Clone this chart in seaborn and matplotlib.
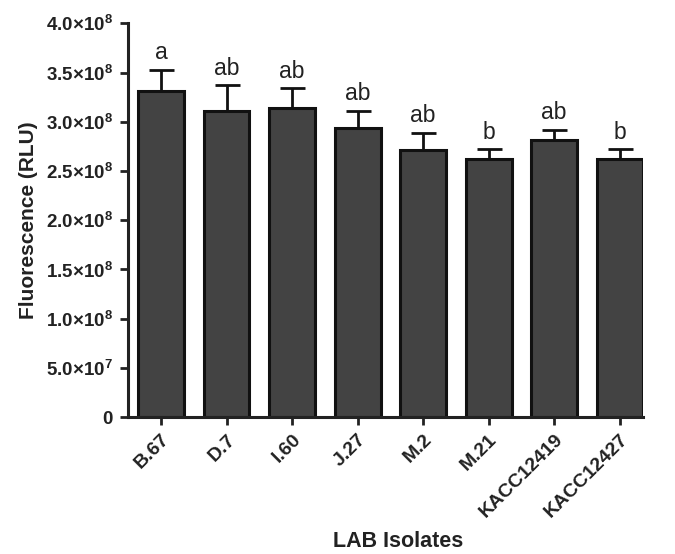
import numpy as np
import pandas as pd
import matplotlib
matplotlib.use("Agg")
import matplotlib.pyplot as plt
import seaborn as sns

# Data
isolates = ['B.67', 'D.7', 'I.60', 'J.27', 'M.2', 'M.21', 'KACC12419', 'KACC12427']
fluorescence = [3.31e8, 3.11e8, 3.14e8, 2.94e8, 2.71e8, 2.62e8, 2.81e8, 2.62e8]
sd = [0.22e8, 0.26e8, 0.20e8, 0.17e8, 0.18e8, 0.10e8, 0.11e8, 0.10e8]
letters = ['a', 'ab', 'ab', 'ab', 'ab', 'b', 'ab', 'b']

yticks = [0, 0.5e8, 1.0e8, 1.5e8, 2.0e8, 2.5e8, 3.0e8, 3.5e8, 4.0e8]
ytick_labels = ['0', '5.0×10$^{7}$', '1.0×10$^{8}$', '1.5×10$^{8}$', '2.0×10$^{8}$',
                '2.5×10$^{8}$', '3.0×10$^{8}$', '3.5×10$^{8}$', '4.0×10$^{8}$']

df = pd.DataFrame({'isolate': isolates, 'fluorescence': fluorescence, 'sd': sd})

sns.set_style('ticks')
plt.rcParams['font.family'] = ['Liberation Sans', 'DejaVu Sans']
plt.rcParams['mathtext.fontset'] = 'custom'
plt.rcParams['mathtext.rm'] = 'Liberation Sans:bold'
plt.rcParams['mathtext.bf'] = 'Liberation Sans:bold'
plt.rcParams['mathtext.default'] = 'bf'

fig = plt.figure(figsize=(6.75, 5.54), dpi=100)
ax = fig.add_axes([0.19, 0.247, 0.763, 0.711])

sns.barplot(data=df, x='isolate', y='fluorescence', color='#434343', saturation=1,
            width=0.7, errorbar=None, edgecolor='#111111', linewidth=2.2, ax=ax)

# one-sided (upward) error bars
ax.errorbar(np.arange(len(isolates)), df['fluorescence'],
            yerr=[np.zeros(len(sd)), df['sd']], fmt='none', ecolor='#111111',
            elinewidth=2.0, capsize=9, capthick=2.0, zorder=5)

# significance letters
for i, (v, e, l) in enumerate(zip(fluorescence, sd, letters)):
    ax.annotate(l, (i, v + e), xytext=(0, 4), textcoords='offset points',
                ha='center', va='bottom', fontsize=16.5, color='#222222')

ax.set_ylim(0, 4.0e8)
ax.set_xlim(-0.5, 7.36)
ax.set_yticks(yticks)
ax.set_yticklabels(ytick_labels, fontsize=13.5, fontweight='bold', color='#222222')
ax.set_xticks(range(len(isolates)))
ax.set_xticklabels(isolates, rotation=45, ha='right', rotation_mode='anchor',
                   fontsize=14, fontweight='bold', color='#222222')
ax.tick_params(axis='both', direction='out', length=6, width=2, color='#222222')
ax.tick_params(axis='x', pad=4)
ax.tick_params(axis='y', pad=5)

ax.set_ylabel('Fluorescence (RLU)', fontsize=15, fontweight='bold', color='#222222', labelpad=6)
ax.set_xlabel('')
fig.text(0.59, 0.004, 'LAB Isolates', ha='center', va='bottom',
         fontsize=15.5, fontweight='bold', color='#222222')

sns.despine(ax=ax)
for s in ['left', 'bottom']:
    ax.spines[s].set_linewidth(2.2)
    ax.spines[s].set_color('#222222')

plt.savefig('out.png', dpi=100)
